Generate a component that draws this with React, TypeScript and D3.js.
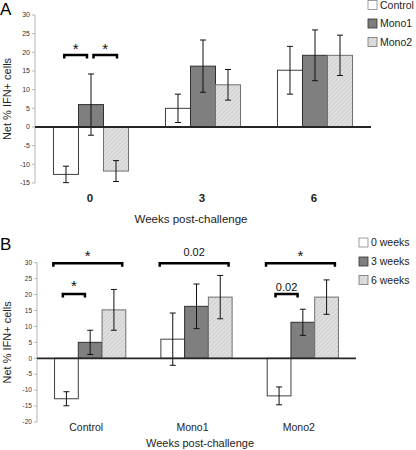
import React from "react";
import * as d3 from "d3";

// ---- data ----
const weeks = ["0", "3", "6"];
const groupsB = ["Control", "Mono1", "Mono2"];
const seriesA = ["Control", "Mono1", "Mono2"];
const seriesB = ["0 weeks", "3 weeks", "6 weeks"];

// means per group (index by week 0,3,6)
const controlMeans = [-12.7, 5.0, 15.2];
const mono1Means = [6.0, 16.3, 19.2];
const mono2Means = [-11.8, 11.3, 19.2];
const controlErr = [2.2, 3.8, 6.4];
const mono1Err = [8.2, 7.0, 6.8];
const mono2Err = [2.8, 4.1, 5.4];

const ticksA = [-15, -10, -5, 0, 5, 10, 15, 20, 25, 30];
const ticksB = [-20, -15, -10, -5, 0, 5, 10, 15, 20, 25, 30];

// significance brackets: group, bar-unit span, level (data units), label
const bracketsA = [
  { group: "0", from: 0.43, to: 1.34, y: 19.3, label: "*" },
  { group: "0", from: 1.6, to: 2.54, y: 19.3, label: "*" },
];
const bracketsB = [
  { group: "Control", from: -0.05, to: 2.85, y: 29.8, label: "*", big: true },
  { group: "Control", from: 0.35, to: 1.28, y: 20.2, label: "*", big: false },
  { group: "Mono1", from: -0.05, to: 2.85, y: 29.8, label: "0.02", big: true },
  { group: "Mono2", from: -0.05, to: 2.85, y: 29.8, label: "*", big: true },
  { group: "Mono2", from: 0.35, to: 1.28, y: 20.2, label: "0.02", big: false },
];

const allMeans = [controlMeans, mono1Means, mono2Means];
const allErr = [controlErr, mono1Err, mono2Err];

const FONT = "'Liberation Sans', Arial, Helvetica, sans-serif";
const fills = ["#ffffff", "#7f7f7f", "url(#hatch)"];
const strokes = ["#404040", "#303030", "#707070"];

type Bar = { group: string; s: number; v: number; e: number };

function Panel(props: {
  letter: string;
  yDomain: [number, number];
  yRange: [number, number];
  ticks: number[];
  xRange: [number, number];
  groups: string[];
  bars: Bar[];
  brackets: any[];
  legend: string[];
  legendX: number;
  legendY: number[];
  catBold: boolean;
  catY: number;
  titleY: number;
  titleX: number;
  catShift: number;
  letterY: number;
  tickFont: number;
}) {
  const y = d3.scaleLinear().domain(props.yDomain).range(props.yRange);
  const x = d3.scaleBand().domain(props.groups).range(props.xRange).paddingInner(0.33).paddingOuter(0.165);
  const inner = d3.scaleBand().domain(["0", "1", "2"]).range([0, x.bandwidth()]);
  const bw = inner.bandwidth();
  const axisX = props.xRange[0];
  return (
    <g>
      <text x={0} y={props.letterY} fontFamily={FONT} fontSize={17}>{props.letter}</text>
      {/* y axis */}
      <line x1={axisX} x2={axisX} y1={y(props.yDomain[0])} y2={y(props.yDomain[1])} stroke="#b5b5b5" strokeWidth={1} />
      {props.ticks.map((t) => (
        <g key={t}>
          <line x1={axisX - 3} x2={axisX} y1={y(t)} y2={y(t)} stroke="#b5b5b5" />
          <text x={axisX - 5} y={y(t)} dy="0.35em" textAnchor="end" fontFamily={FONT} fontSize={props.tickFont} fill="#333">{t}</text>
        </g>
      ))}
      <text
        transform={`translate(11,${(y(props.yDomain[0]) + y(props.yDomain[1])) / 2}) rotate(-90)`}
        textAnchor="middle"
        fontFamily={FONT}
        fontSize={11}
        fill="#222"
      >Net % IFN+ cells</text>
      {/* bars */}
      {props.bars.map((b, i) => {
        const bx = (x(b.group) as number) + (inner(String(b.s)) as number);
        const top = Math.min(y(b.v), y(0));
        const h = Math.abs(y(b.v) - y(0));
        const cx = bx + bw / 2;
        return (
          <g key={i}>
            <rect x={bx} y={top} width={bw} height={h} fill={fills[b.s]} stroke={strokes[b.s]} strokeWidth={1} />
            <line x1={cx} x2={cx} y1={y(b.v + b.e)} y2={y(b.v - b.e)} stroke="#111" strokeWidth={1} />
            <line x1={cx - 3} x2={cx + 3} y1={y(b.v + b.e)} y2={y(b.v + b.e)} stroke="#111" strokeWidth={1} />
            <line x1={cx - 3} x2={cx + 3} y1={y(b.v - b.e)} y2={y(b.v - b.e)} stroke="#111" strokeWidth={1} />
          </g>
        );
      })}
      {/* zero line */}
      <line x1={axisX} x2={props.xRange[1]} y1={y(0)} y2={y(0)} stroke="#262626" strokeWidth={1.8} />
      {/* category labels */}
      {props.groups.map((g) => (
        <text key={g} x={(x(g) as number) + x.bandwidth() / 2 + props.catShift} y={props.catY} textAnchor="middle" fontFamily={FONT} fontSize={props.catBold ? 11.5 : 10.5} fontWeight={props.catBold ? "bold" : "normal"} fill="#222">{g}</text>
      ))}
      <text x={props.titleX} y={props.titleY} textAnchor="middle" fontFamily={FONT} fontSize={props.catBold ? 11.5 : 11} fill="#222">Weeks post-challenge</text>
      {/* brackets */}
      {props.brackets.map((br, i) => {
        const gx = x(br.group) as number;
        const x1 = gx + br.from * bw;
        const x2 = gx + br.to * bw;
        const yy = y(br.y);
        const isStar = br.label === "*";
        const off = isStar ? (br.big === undefined ? 1 : 2.5) : br.big ? 7 : 3;
        return (
          <g key={i}>
            <path d={`M${x1},${yy + 3.5}V${yy}H${x2}V${yy + 3.5}`} fill="none" stroke="#000" strokeWidth={2.5} />
            <text x={(x1 + x2) / 2} y={yy - off} textAnchor="middle" fontFamily={FONT} fontSize={isStar ? 15 : 11} fill="#111">{br.label}</text>
          </g>
        );
      })}
      {/* legend */}
      {props.legend.map((l, i) => (
        <g key={l}>
          <rect x={props.legendX} y={props.legendY[i] - 4.5} width={9} height={9} fill={fills[i]} stroke={i === 0 ? "#888" : strokes[i]} strokeWidth={0.8} />
          <text x={props.legendX + 12} y={props.legendY[i]} dy="0.35em" fontFamily={FONT} fontSize={10.5} fill="#222">{l}</text>
        </g>
      ))}
    </g>
  );
}

export default function App() {
  const barsA: Bar[] = [];
  weeks.forEach((w, wi) => {
    allMeans.forEach((m, s) => barsA.push({ group: w, s, v: m[wi], e: allErr[s][wi] }));
  });
  const barsB: Bar[] = [];
  groupsB.forEach((g, gi) => {
    weeks.forEach((_, wi) => barsB.push({ group: g, s: wi, v: allMeans[gi][wi], e: allErr[gi][wi] }));
  });
  return (
    <div style={{ position: "absolute", left: 0, top: 0 }}>
      <svg width={416} height={450} style={{ display: "block", background: "#fff" }}>
        <defs>
          <pattern id="hatch" patternUnits="userSpaceOnUse" width={3} height={3} patternTransform="rotate(45)">
            <rect width={3} height={3} fill="#e0e0e0" />
            <line x1={0} y1={0} x2={0} y2={3} stroke="#bdbdbd" strokeWidth={1} />
          </pattern>
        </defs>
        <Panel
          letter="A"
          yDomain={[-15, 30]}
          yRange={[183, 15]}
          ticks={ticksA}
          xRange={[35, 371]}
          groups={weeks}
          bars={barsA}
          brackets={bracketsA}
          legend={seriesA}
          legendX={368}
          legendY={[5, 23.5, 42]}
          catBold={true}
          catY={202}
          titleY={223}
          titleX={191}
          catShift={-1}
          letterY={15}
          tickFont={7}
        />
        <Panel
          letter="B"
          yDomain={[-20, 30]}
          yRange={[422, 262.7]}
          ticks={ticksB}
          xRange={[37, 356]}
          groups={groupsB}
          bars={barsB}
          brackets={bracketsB}
          legend={seriesB}
          legendX={359}
          legendY={[242.5, 261.5, 280]}
          catBold={false}
          catY={430.5}
          titleY={447}
          titleX={200}
          catShift={-4}
          letterY={250}
          tickFont={6.5}
        />
      </svg>
    </div>
  );
}
